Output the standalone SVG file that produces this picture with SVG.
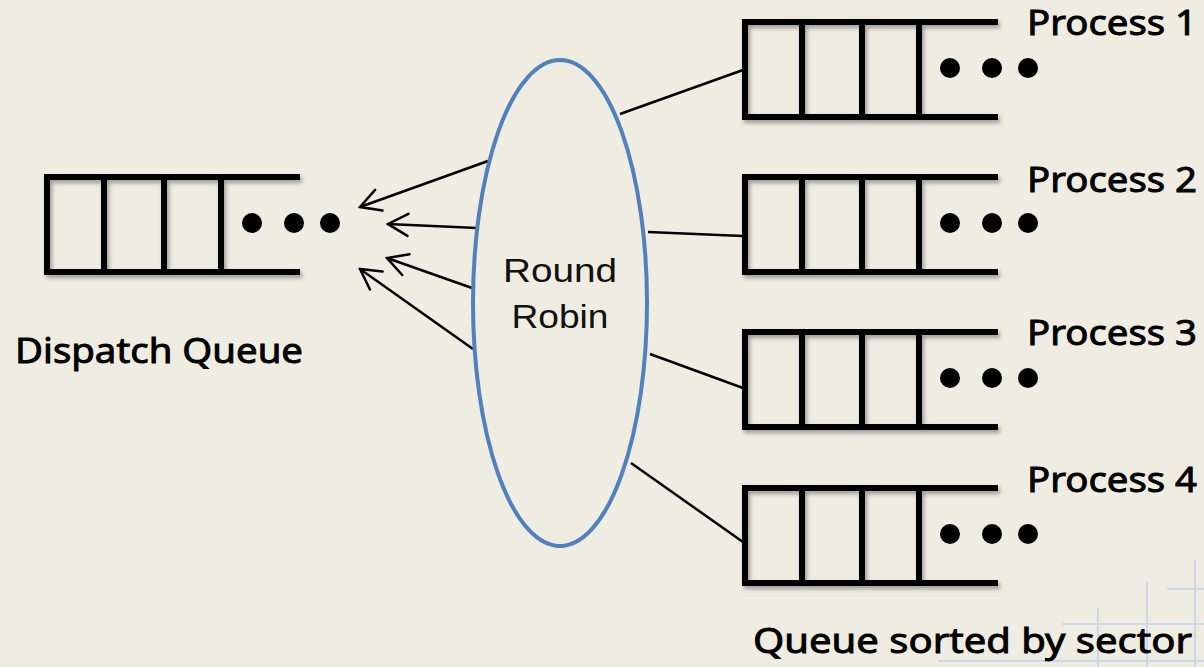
<svg xmlns="http://www.w3.org/2000/svg" width="1204" height="667" viewBox="0 0 1204 667">
  <defs>
    <style>
      .bg { fill: #efece2; }
      .grid { stroke: #c9d8ea; stroke-width: 2; fill: none; }
      .q { stroke: #000; stroke-width: 6; fill: none; stroke-linejoin: miter; }
      .dot { fill: #000; }
      .lbl { font-family: "Noto Sans", "Open Sans", "DejaVu Sans", sans-serif; font-size: 35px; fill: #000; stroke: #000; stroke-width: 0.9; }
      .rr { font-family: "Liberation Sans", Arial, sans-serif; font-size: 34px; fill: #111; text-anchor: middle; }
      .link { stroke: #000; stroke-width: 2.5; fill: none; }
      .ell { stroke: #4f81bd; stroke-width: 4; fill: #efece2; }
    </style>
    <filter id="shadow" x="-10%" y="-10%" width="130%" height="140%">
      <feDropShadow dx="2" dy="3" stdDeviation="2" flood-color="#000" flood-opacity="0.35"/>
    </filter>
    <marker id="open" viewBox="0 0 26 26" refX="24" refY="13" markerWidth="26" markerHeight="26" markerUnits="userSpaceOnUse" orient="auto">
      <path d="M4 2 L24 13 L4 24" fill="none" stroke="#000" stroke-width="2.5" stroke-linecap="round" stroke-linejoin="miter"/>
    </marker>
    <!-- one queue: open-ended box with three slots and trailing dots -->
    <g id="queue">
      <path class="q" d="M253 0 H0 V95 H253 M57 0 V95 M117 0 V95 M174 0 V95" filter="url(#shadow)"/>
      <circle class="dot" cx="205" cy="46" r="10"/>
      <circle class="dot" cx="247" cy="46" r="10"/>
      <circle class="dot" cx="283" cy="46" r="10"/>
    </g>
  </defs>

  <rect class="bg" x="0" y="0" width="1204" height="667"/>

  <!-- faint grid corner -->
  <g id="grid">
    <path class="grid" d="M1098 608 V667 M1147 582 V667 M1195 560 V667 M1062 624 H1204 M1167 589 H1204 M938 661 H1204"/>
  </g>

  <!-- connectors -->
  <g id="connectors">
    <line class="link" x1="488" y1="161" x2="360" y2="207" marker-end="url(#open)"/>
    <line class="link" x1="477" y1="228" x2="388" y2="224" marker-end="url(#open)"/>
    <line class="link" x1="472" y1="288" x2="387" y2="258" marker-end="url(#open)"/>
    <line class="link" x1="473" y1="349" x2="360" y2="269" marker-end="url(#open)"/>
    <line class="link" x1="620" y1="114" x2="743" y2="70"/>
    <line class="link" x1="648" y1="232" x2="743" y2="236"/>
    <line class="link" x1="650" y1="354" x2="743" y2="388"/>
    <line class="link" x1="631" y1="463" x2="743" y2="542"/>
  </g>

  <g id="dispatch-queue">
    <use href="#queue" x="47" y="177"/>
    <text class="lbl" x="15" y="363" textLength="288" lengthAdjust="spacingAndGlyphs">Dispatch Queue</text>
  </g>

  <g id="round-robin">
    <ellipse class="ell" cx="560" cy="303" rx="87" ry="243"/>
    <text class="rr" x="560" y="282" textLength="114" lengthAdjust="spacingAndGlyphs">Round</text>
    <text class="rr" x="560" y="328" textLength="97" lengthAdjust="spacingAndGlyphs">Robin</text>
  </g>

  <g id="process-1">
    <use href="#queue" x="745" y="22"/>
    <text class="lbl" x="1027" y="35" textLength="170" lengthAdjust="spacingAndGlyphs">Process 1</text>
  </g>
  <g id="process-2">
    <use href="#queue" x="745" y="177"/>
    <text class="lbl" x="1027" y="192" textLength="170" lengthAdjust="spacingAndGlyphs">Process 2</text>
  </g>
  <g id="process-3">
    <use href="#queue" x="745" y="332"/>
    <text class="lbl" x="1027" y="345" textLength="170" lengthAdjust="spacingAndGlyphs">Process 3</text>
  </g>
  <g id="process-4">
    <use href="#queue" x="745" y="488"/>
    <text class="lbl" x="1027" y="492" textLength="170" lengthAdjust="spacingAndGlyphs">Process 4</text>
  </g>

  <text class="lbl" x="753" y="653" textLength="439" lengthAdjust="spacingAndGlyphs">Queue sorted by sector</text>
</svg>
